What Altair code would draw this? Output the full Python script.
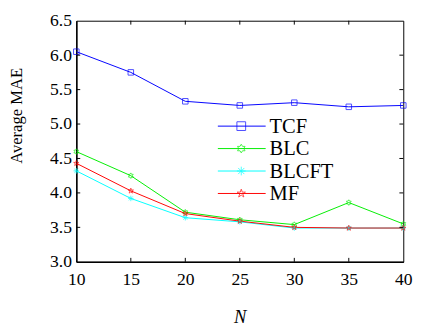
import altair as alt
import pandas as pd

n_values = [10, 15, 20, 25, 30, 35, 40]
series_names = ["TCF", "BLC", "BLCFT", "MF"]
tcf = [6.05, 5.75, 5.33, 5.27, 5.31, 5.25, 5.27]
blc = [4.60, 4.25, 3.72, 3.61, 3.54, 3.86, 3.55]
blcft = [4.32, 3.92, 3.64, 3.58, 3.49, 3.49, 3.49]
mf = [4.43, 4.03, 3.70, 3.59, 3.50, 3.49, 3.49]
x_ticks = [10, 15, 20, 25, 30, 35, 40]
y_ticks = [3.0, 3.5, 4.0, 4.5, 5.0, 5.5, 6.0, 6.5]

colors = ["#0000FF", "#00EE00", "#00FFFF", "#FF0000"]
PENTA = "M0,-1L0.225,-0.309L0.951,-0.309L0.363,0.118L0.588,0.809L0,0.382L-0.588,0.809L-0.363,0.118L-0.951,-0.309L-0.225,-0.309Z"
HEXA = "M0,-1L0.289,-0.5L0.866,-0.5L0.577,0L0.866,0.5L0.289,0.5L0,1L-0.289,0.5L-0.866,0.5L-0.577,0L-0.866,-0.5L-0.289,-0.5Z"
AST = "M0,-1L0,1M-1,0L1,0M-0.7,-0.7L0.7,0.7M-0.7,0.7L0.7,-0.7"
shapes = ["square", HEXA, AST, PENTA]

W, H = 335, 247
FONT = "Liberation Serif, Times New Roman, DejaVu Serif, serif"

rows = []
for name, vals in zip(series_names, [tcf, blc, blcft, mf]):
    for n, v in zip(n_values, vals):
        rows.append({"N": n, "MAE": v, "series": name})
df = pd.DataFrame(rows)

xs = alt.Scale(domain=[10, 40], nice=False, zero=False)
ys = alt.Scale(domain=[3.0, 6.5], nice=False, zero=False)
cs = alt.Scale(domain=series_names, range=colors)
ss = alt.Scale(domain=series_names, range=shapes)

x_axis = alt.Axis(values=x_ticks, title="N", titleFontStyle="italic",
                  titleFontSize=19, titlePadding=20, labelFontSize=18,
                  labelPadding=9)
y_axis = alt.Axis(values=y_ticks, format=".1f", title="Average MAE",
                  titleFontSize=17, titleX=-61, titleY=97, titleAngle=270,
                  titleBaseline="middle", labelFontSize=18, labelPadding=5)

X = alt.X("N:Q", scale=xs, axis=x_axis)
Y = alt.Y("MAE:Q", scale=ys, axis=y_axis)

base = alt.Chart(df)
lines = base.mark_line(strokeWidth=1, clip=True).encode(
    x=X, y=Y,
    color=alt.Color("series:N", scale=cs, legend=None),
    detail="series:N",
)
points = base.mark_point(filled=False, size=32, strokeWidth=1).encode(
    x=X, y=Y,
    color=alt.Color("series:N", scale=cs, legend=None),
    shape=alt.Shape("series:N", scale=ss, legend=None),
)

# inward ticks
xt = pd.DataFrame({"t": x_ticks[1:-1]})
yt = pd.DataFrame({"t": y_ticks[1:-1]})
tick_layers = [
    alt.Chart(xt).mark_rule(color="black", strokeWidth=1).encode(
        x=alt.X("t:Q", scale=xs, axis=x_axis), y=alt.value(H), y2=alt.value(H - 4)),
    alt.Chart(xt).mark_rule(color="black", strokeWidth=1).encode(
        x=alt.X("t:Q", scale=xs, axis=x_axis), y=alt.value(0), y2=alt.value(4)),
    alt.Chart(yt).mark_rule(color="black", strokeWidth=1).encode(
        y=alt.Y("t:Q", scale=ys, axis=y_axis), x=alt.value(0), x2=alt.value(4)),
    alt.Chart(yt).mark_rule(color="black", strokeWidth=1).encode(
        y=alt.Y("t:Q", scale=ys, axis=y_axis), x=alt.value(W), x2=alt.value(W - 4)),
]

# custom legend
leg_layers = []
leg_y0, leg_dy = 108, 23
lx1, lx2, lmk, ltx = 145, 194, 169, 198
for i, (name, col, shp) in enumerate(zip(series_names, colors, shapes)):
    ly = leg_y0 + i * leg_dy
    d = pd.DataFrame({"label": [name]})
    leg_layers.append(alt.Chart(d).mark_rule(color=col, strokeWidth=1).encode(
        x=alt.value(lx1), x2=alt.value(lx2), y=alt.value(ly)))
    leg_layers.append(alt.Chart(d).mark_point(color=col, shape=shp, size=80,
                                              filled=False, strokeWidth=1).encode(
        x=alt.value(lmk), y=alt.value(ly)))
    leg_layers.append(alt.Chart(d).mark_text(align="left", baseline="middle", font=FONT,
                                             fontSize=21, color="black", dy=1).encode(
        x=alt.value(ltx), y=alt.value(ly), text="label:N"))

chart = alt.layer(lines, points, *tick_layers, *leg_layers).properties(
    width=W, height=H,
    autosize=alt.AutoSizeParams(type="none"),
    padding={"left": 70, "top": 9, "right": 12, "bottom": 72},
).configure(
    background="white", font=FONT
).configure_view(
    stroke="black", strokeWidth=1
).configure_axis(
    labelFont=FONT, titleFont=FONT, labelColor="black", titleColor="black",
    titleFontWeight="normal", labelOverlap=False, labelFlush=False,
    ticks=False, tickSize=0, grid=False, domainColor="black", domainWidth=1.5,
)

chart.save("out.html", embed_options={"renderer": "svg", "actions": False})
